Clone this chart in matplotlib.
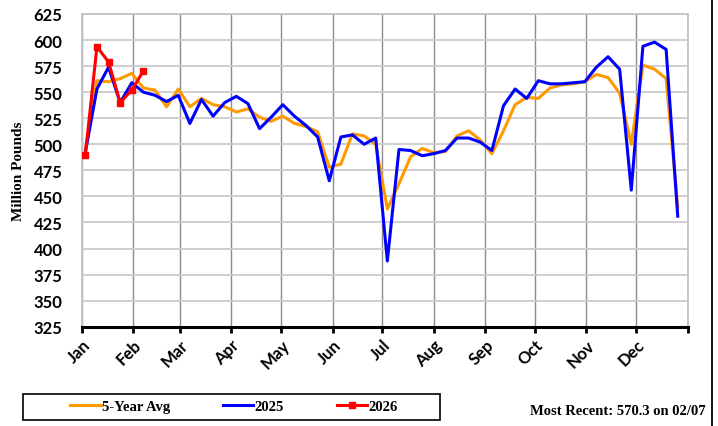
import matplotlib
matplotlib.use("Agg")
import matplotlib.pyplot as plt
from matplotlib.patches import Rectangle
from matplotlib.lines import Line2D
import pandas as pd

plt.rcParams["font.family"] = "Lato"

# week-ending dates (Saturdays), plotted on the 2026 calendar
weeks = pd.date_range("2026-01-03", periods=52, freq="7D")

avg_5yr = [
    495, 561, 560, 563, 568, 554, 552, 536, 553, 536, 544, 538, 536, 531,
    534, 526, 522, 527, 520, 517, 512, 478, 481, 510, 508, 500, 438, 462,
    488, 496, 492, 493, 508, 513, 504, 491, 513, 538, 545, 544, 554, 557,
    558, 560, 567, 564, 549, 500, 576, 572, 563, 440,
]
y2025 = [
    492, 553, 574, 540, 559, 550, 547, 541, 547, 520, 543, 527, 540, 546,
    539, 515, 526, 538, 527, 518, 507, 465, 507, 509, 500, 506, 388, 495,
    494, 489, 491, 494, 506, 506, 502, 494, 537, 553, 544, 561, 558, 558,
    559, 560, 574, 584, 572, 456, 594, 598, 591, 431,
]
y2026 = [490, 593.5, 579, 540, 552, 570.3]

month_labels = ["Jan", "Feb", "Mar", "Apr", "May", "Jun",
                "Jul", "Aug", "Sep", "Oct", "Nov", "Dec"]
month_ticks = pd.date_range("2026-01-01", "2027-01-01", freq="MS")

fig = plt.figure(figsize=(7.18, 4.27), dpi=100)
ax = fig.add_axes([0.1142, 0.2326, 0.8436, 0.7323])

ax.plot(weeks, avg_5yr, color="#FF9900", lw=2.2, label="5-Year Avg", zorder=3)
ax.plot(weeks, y2025, color="#0000FF", lw=2.2, label="2025", zorder=4)
ax.plot(weeks[:len(y2026)], y2026, color="#FF0000", lw=2.2, marker="s",
        markersize=4.5, label="2026", zorder=5)

ax.set_xlim(pd.Timestamp("2026-01-01"), pd.Timestamp("2027-01-01"))
ax.set_ylim(325, 625)
ax.set_yticks(range(325, 626, 25))
ax.set_xticks(month_ticks)
ax.set_xticklabels(month_labels + [""])

for lbl in ax.get_xticklabels():
    lbl.set_rotation(45)
    lbl.set_ha("right")
    lbl.set_rotation_mode("anchor")
    lbl.set_fontweight("bold")
    lbl.set_fontsize(12)
for lbl in ax.get_yticklabels():
    lbl.set_fontweight("bold")
    lbl.set_fontsize(12)

ax.tick_params(axis="y", length=0, pad=14)
ax.tick_params(axis="x", direction="out", length=4, width=2, color="black", pad=3)

ax.grid(axis="y", color="#cccccc", lw=1.3, zorder=0)
ax.grid(axis="x", color="#8c8c8c", lw=1.0, zorder=0)
ax.set_axisbelow(True)

for side in ["left", "top", "right"]:
    ax.spines[side].set_color("#c4c4c4")
    ax.spines[side].set_linewidth(1.3)
ax.spines["bottom"].set_color("black")
ax.spines["bottom"].set_linewidth(2.2)

ax.set_ylabel("Million Pounds", family="Liberation Serif", fontweight="bold",
              fontsize=11, labelpad=6)

# legend box at the bottom
fig.patches.append(Rectangle((23 / 718, 1 - 420.5 / 427), 417 / 718, 26 / 427,
                             transform=fig.transFigure, fill=False,
                             edgecolor="black", lw=1.2))
handles, labels = ax.get_legend_handles_labels()
fig.legend(handles, labels, loc="center", bbox_to_anchor=(234 / 718, 1 - 407.5 / 427),
           ncol=3, frameon=False, handlelength=2.1, handletextpad=0.1,
           columnspacing=3.6, prop={"family": "Liberation Serif", "weight": "bold", "size": 10.5})

fig.text(706 / 718, 1 - 412 / 427, "Most Recent: 570.3 on 02/07", ha="right", va="center",
         family="Liberation Serif", fontweight="bold", fontsize=10.5)

fig.lines.append(Line2D([711.5 / 718, 711.5 / 718], [0, 1], transform=fig.transFigure,
                        color="black", lw=1.3))

fig.savefig("out.png", dpi=100)
